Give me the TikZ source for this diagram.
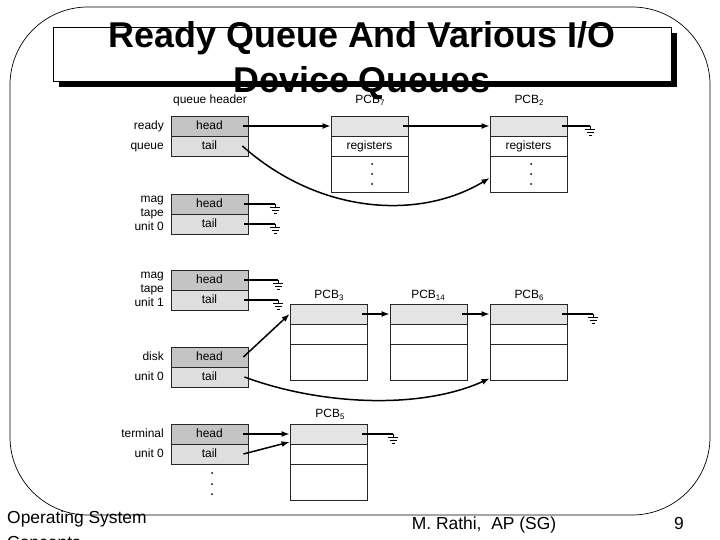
\documentclass[tikz,border=0pt]{standalone}
\usepackage{fontspec}
\setmainfont{Liberation Sans}
\usetikzlibrary{arrows.meta}
\definecolor{hdark}{HTML}{C4C4C4}
\definecolor{hlight}{HTML}{DEDEDE}
\definecolor{plight}{HTML}{E4E4E4}
\newcommand{\pcbsub}[1]{PCB\raisebox{-2.6bp}{\fontsize{8}{8}\selectfont #1}}
\begin{document}
\begin{tikzpicture}[x=1bp,y=-1bp,
  lab/.style={font=\fontsize{12}{14}\selectfont, inner sep=0pt, text height=8.6bp, text depth=2.4bp},
  cellbase/.style={draw=black!85, line width=0.8bp, minimum width=77bp, inner sep=0pt,
    font=\fontsize{12}{14}\selectfont, text height=8.6bp, text depth=2.4bp},
  hhead/.style={cellbase, fill=hdark, minimum height=20bp},
  htail/.style={cellbase, fill=hlight, minimum height=20bp},
  prow/.style={cellbase, fill=plight, minimum height=20bp},
  pmid/.style={cellbase, fill=white, minimum height=20bp},
  pbot/.style={cellbase, fill=white, minimum height=36bp},
  arr/.style={line width=1.5bp, -{Latex[length=8bp,width=6bp]}},
  wire/.style={line width=1.3bp},
  gnd/.pic={\draw[line width=0.8bp] (0,0)--(0,3) (-5,3)--(5,3) (-3.5,6)--(3.5,6) (-1.5,9)--(1.5,9);},
  foot/.style={font=\fontsize{17.5}{20}\selectfont, inner sep=0pt}
]
\useasboundingbox (0,0) rectangle (720,540);
\fill[white] (0,0) rectangle (720,540);
% outer frame
\draw[line width=0.7bp, rounded corners=78bp] (10,7) rectangle (710,515);
% title box
\fill[black] (59,33) rectangle (677,87);
\draw[fill=white, line width=0.8bp] (53,27) rectangle (671,81);
\node[font=\fontsize{36}{40}\bfseries\selectfont, inner sep=0pt, anchor=base] (t1) at (362,48) {Ready Queue And Various I/O};
\node[font=\fontsize{36}{40}\bfseries\selectfont, inner sep=0pt, anchor=base] (t2) at (362,93) {Device Queues};

% column labels
\node[lab] (qh) at (210,100) {queue header};
\node[lab] (l7) at (370,100) {\pcbsub{7}};
\node[lab] (l2) at (529,100) {\pcbsub{2}};

% header cells
\node[hhead] (rh) at (209.5,126) {head};
\node[htail] (rt) at (209.5,146) {tail};
\node[hhead] (m0h) at (209.5,204) {head};
\node[htail] (m0t) at (209.5,224) {tail};
\node[hhead] (m1h) at (209.5,280) {head};
\node[htail] (m1t) at (209.5,300) {tail};
\node[hhead] (dh) at (209.5,357) {head};
\node[htail] (dt) at (209.5,377) {tail};
\node[hhead] (th) at (209.5,434) {head};
\node[htail] (tt) at (209.5,454) {tail};

% row labels
\node[lab, anchor=east] (a1) at (164,126) {ready};
\node[lab, anchor=east] (a2) at (164,146) {queue};
\node[lab, anchor=east] (b1) at (164,199) {mag};
\node[lab, anchor=east] (b2) at (164,213) {tape};
\node[lab, anchor=east] (b3) at (164,227) {unit 0};
\node[lab, anchor=east] (c1) at (164,275) {mag};
\node[lab, anchor=east] (c2) at (164,289) {tape};
\node[lab, anchor=east] (c3) at (164,303) {unit 1};
\node[lab, anchor=east] (d1) at (164,357) {disk};
\node[lab, anchor=east] (d2) at (164,377) {unit 0};
\node[lab, anchor=east] (e1) at (164,434) {terminal};
\node[lab, anchor=east] (e2) at (164,454) {unit 0};

% PCB7 and PCB2
\node[prow] (p7a) at (369.5,126) {};
\node[pmid] (p7b) at (369.5,146) {registers};
\node[pbot] (p7c) at (369.5,174) {};
\node[prow] (p2a) at (528.5,126) {};
\node[pmid] (p2b) at (528.5,146) {registers};
\node[pbot] (p2c) at (528.5,174) {};
\foreach \yy in {164,174,184} {
  \fill (372,\yy) circle (1bp);
  \fill (531,\yy) circle (1bp);
}

% PCB3, PCB14, PCB6
\node[lab] (l3) at (329,295) {\pcbsub{3}};
\node[lab] (l14) at (428,295) {\pcbsub{14}};
\node[lab] (l6) at (529,295) {\pcbsub{6}};
\node[prow] (p3a) at (328.5,314) {};
\node[pmid] (p3b) at (328.5,334) {};
\node[pbot] (p3c) at (328.5,362) {};
\node[prow] (p14a) at (428.5,314) {};
\node[pmid] (p14b) at (428.5,334) {};
\node[pbot] (p14c) at (428.5,362) {};
\node[prow] (p6a) at (528.5,314) {};
\node[pmid] (p6b) at (528.5,334) {};
\node[pbot] (p6c) at (528.5,362) {};

% PCB5
\node[lab] (l5) at (330,414) {\pcbsub{5}};
\node[prow] (p5a) at (328.5,434) {};
\node[pmid] (p5b) at (328.5,454) {};
\node[pbot] (p5c) at (328.5,482) {};

% terminal dots
\foreach \yy in {473,484,494} { \fill (212,\yy) circle (1bp); }

% ground coordinates
\coordinate (g1) at (590,126);
\coordinate (g2) at (275,204);
\coordinate (g3) at (275,224);
\coordinate (g4) at (278,280);
\coordinate (g5) at (278,300);
\coordinate (g6) at (593,314);
\coordinate (g7) at (393,434);

% ready queue
\draw[arr] ([xshift=-5bp]rh.east) -- (p7a.west);
\draw[arr] ([xshift=-5bp]p7a.east) -- (p2a.west);
\draw[wire] ([xshift=-5bp]p2a.east) -- (g1);
\draw[arr] ([xshift=-6bp]rt.east) .. controls (320,215) and (420,220) .. ([yshift=-4bp]p2c.west);

% mag tapes
\draw[wire] ([xshift=-4bp]m0h.east) -- (g2);
\draw[wire] ([xshift=-4bp]m0t.east) -- (g3);
\draw[wire] ([xshift=-4bp]m1h.east) -- (g4);
\draw[wire] ([xshift=-4bp]m1t.east) -- (g5);

% disk
\draw[arr] ([xshift=-5bp]dh.east) -- (p3a.west);
\draw[arr] ([xshift=-5bp]p3a.east) -- (p14a.west);
\draw[arr] ([xshift=-5bp]p14a.east) -- (p6a.west);
\draw[wire] ([xshift=-5bp]p6a.east) -- (g6);
\draw[arr] ([xshift=-4bp]dt.east) .. controls (320,405) and (420,410) .. ([yshift=2bp]p6c.south west);

% terminal
\draw[arr] ([xshift=-5bp]th.east) -- (p5a.west);
\draw[arr] ([xshift=-5bp]tt.east) -- ([yshift=-8bp]p5a.west);
\draw[wire] ([xshift=-5bp]p5a.east) -- (g7);

\foreach \g in {g1,g2,g3,g4,g5,g6,g7} { \pic at (\g) {gnd}; }

% footer
\node[foot, anchor=base west] (f1) at (7,523) {Operating System};
\node[foot, anchor=base west] (f2) at (7,548) {Concepts};
\node[foot, anchor=base] (f3) at (484,529) {M. Rathi,\ \ AP (SG)};
\node[foot, anchor=base] (f4) at (679,529) {9};
\end{tikzpicture}
\end{document}
